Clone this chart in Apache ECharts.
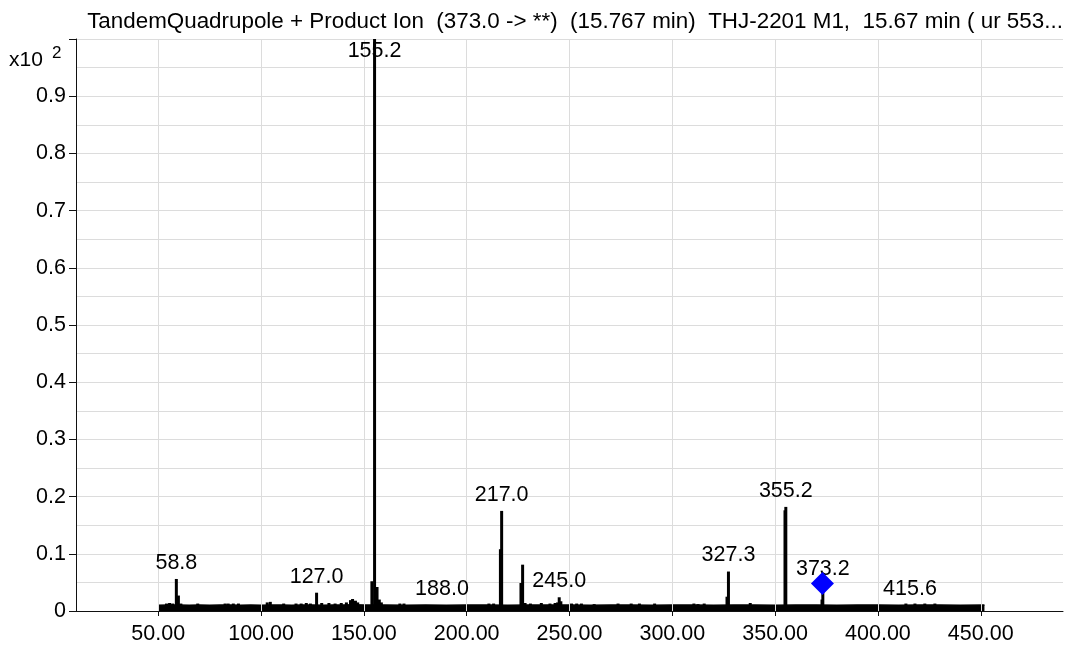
<!DOCTYPE html>
<html>
<head>
<meta charset="utf-8">
<script src="https://cdn.jsdelivr.net/npm/echarts@6/dist/echarts.min.js"></script>
<style>
  html, body { margin: 0; padding: 0; background: #fff; }
  #chart { width: 1067px; height: 651px; }
</style>
</head>
<body>
<div id="chart"></div>
<script>
// Product ion spectrum, intensities in units of x10^2 counts
const titleText = 'TandemQuadrupole + Product Ion  (373.0 -> **)  (15.767 min)  THJ-2201 M1,  15.67 min ( ur 553...';

// m/z tick values on the horizontal axis
const xTicks = [50, 100, 150, 200, 250, 300, 350, 400, 450];

// Baseline noise envelope [m/z, intensity]
const noiseFloor = [
  [50.0, 0.010], [55, 0.0105], [60, 0.0105], [65, 0.010], [70, 0.0105], [75, 0.010],
  [80, 0.0105], [85, 0.0105], [90, 0.010], [95, 0.0105], [100, 0.010], [105, 0.0105],
  [110, 0.0105], [115, 0.010], [120, 0.0105], [125, 0.0105], [130, 0.010], [135, 0.0105],
  [140, 0.0105], [145, 0.011], [150, 0.0105], [160, 0.0105], [170, 0.010], [180, 0.0105],
  [190, 0.010], [200, 0.0105], [210, 0.0105], [220, 0.010], [230, 0.0105], [240, 0.0105],
  [250, 0.0105], [260, 0.010], [270, 0.0105], [280, 0.0105], [290, 0.010], [300, 0.0105],
  [310, 0.0105], [320, 0.010], [330, 0.0105], [340, 0.0105], [350, 0.010], [360, 0.0105],
  [370, 0.0105], [380, 0.010], [390, 0.0105], [400, 0.0105], [410, 0.010], [420, 0.0105],
  [430, 0.0105], [440, 0.010], [451.8, 0.0105]
];

// Centroid peaks [m/z, intensity]
const peaks = [
  [54.0, 0.013], [55.5, 0.014], [57.0, 0.013], [58.8, 0.056], [59.8, 0.027], [61.0, 0.013],
  [69.2, 0.013], [82.5, 0.013], [84.0, 0.013], [86.5, 0.013], [89.0, 0.013],
  [103.0, 0.015], [104.5, 0.016], [111.0, 0.013], [117.0, 0.013], [119.5, 0.013],
  [122.0, 0.014], [124.0, 0.013], [127.0, 0.032], [129.5, 0.014], [133.0, 0.014],
  [136.0, 0.013], [139.0, 0.014], [141.5, 0.015], [143.5, 0.019], [144.5, 0.021],
  [145.9, 0.018], [147.0, 0.015], [153.9, 0.052], [155.2, 1.0], [156.4, 0.042],
  [157.5, 0.020], [158.5, 0.015], [167.5, 0.013], [169.5, 0.013], [188.0, 0.010],
  [210.8, 0.013], [213.1, 0.013], [216.4, 0.108], [217.0, 0.175], [226.4, 0.049],
  [227.2, 0.081], [228.4, 0.014], [231.0, 0.013], [236.3, 0.014], [240.5, 0.013],
  [243.0, 0.014], [244.2, 0.015], [245.0, 0.024], [245.8, 0.017], [251.0, 0.013],
  [253.5, 0.013], [255.8, 0.013], [262.0, 0.012], [273.6, 0.013], [280.0, 0.013],
  [284.0, 0.013], [291.4, 0.013], [310.5, 0.013], [312.5, 0.012], [315.5, 0.013],
  [326.6, 0.025], [327.3, 0.069], [337.9, 0.014], [354.8, 0.176], [355.2, 0.182],
  [372.8, 0.020], [373.2, 0.045], [413.6, 0.013], [415.6, 0.010], [418.0, 0.013],
  [422.8, 0.013], [427.7, 0.013]
];

// Annotated peaks (m/z)
const labeledMz = [58.8, 127.0, 155.2, 188.0, 217.0, 245.0, 327.3, 355.2, 373.2, 415.6];

// Precursor marker [m/z, intensity]
const precursor = [[373.0, 0.048]];

const FONT = '"Liberation Sans", Arial, sans-serif';

const labelData = labeledMz.map(mz => {
  const p = peaks.find(d => d[0] === mz);
  const item = { value: [mz, p[1]] };
  if (p[1] >= 1.0) {
    item.label = { position: 'bottom', distance: 1 };
  }
  return item;
});

const chart = echarts.init(document.getElementById('chart'), null, { renderer: 'canvas' });

chart.setOption({
  animation: false,
  backgroundColor: '#ffffff',
  title: {
    text: titleText,
    left: 570,
    top: 6,
    textAlign: 'center',
    textStyle: { fontFamily: FONT, fontSize: 22.4, fontWeight: 'normal', color: '#000' }
  },
  grid: { left: 76, right: 4, top: 39, bottom: 40, containLabel: false },
  graphic: [
    { type: 'text', left: 9, top: 50, style: { text: 'x10', font: '21px ' + FONT, fill: '#000' } },
    { type: 'text', left: 52, top: 45, style: { text: '2', font: '17px ' + FONT, fill: '#000' } }
  ],
  xAxis: {
    type: 'value',
    min: 10,
    max: 490,
    axisLine: { show: true, lineStyle: { color: '#111', width: 1 } },
    axisTick: { show: true, length: 5, customValues: xTicks, lineStyle: { color: '#111' } },
    axisLabel: {
      customValues: xTicks,
      formatter: v => v.toFixed(2),
      fontFamily: FONT, fontSize: 21.5, color: '#000', margin: 12
    },
    splitLine: { show: false }
  },
  yAxis: {
    type: 'value',
    min: 0,
    max: 1.0,
    interval: 0.1,
    axisLine: { show: true, lineStyle: { color: '#111', width: 1 } },
    axisTick: { show: true, length: 7, lineStyle: { color: '#111' } },
    axisLabel: {
      formatter: v => (v === 0 ? '0' : (v >= 0.999 ? '' : v.toFixed(1))),
      fontFamily: FONT, fontSize: 21.5, color: '#000', margin: 10
    },
    splitLine: { show: true, lineStyle: { color: '#dcdcdc', width: 1 } },
    minorTick: { show: false, splitNumber: 2 },
    minorSplitLine: { show: true, lineStyle: { color: '#dcdcdc', width: 1 } }
  },
  series: [
    {
      // vertical grid lines at the m/z tick values
      type: 'line',
      z: 0,
      data: [],
      silent: true,
      markLine: {
        silent: true,
        symbol: ['none', 'none'],
        label: { show: false },
        lineStyle: { color: '#dcdcdc', width: 1, type: 'solid' },
        emphasis: { disabled: true },
        data: xTicks.map(v => ({ xAxis: v }))
      }
    },
    {
      type: 'line',
      z: 2,
      data: noiseFloor,
      symbol: 'none',
      silent: true,
      lineStyle: { color: '#000', width: 1.5 },
      areaStyle: { color: '#000', opacity: 1 }
    },
    {
      type: 'custom',
      z: 3,
      silent: true,
      data: peaks,
      renderItem: (params, api) => {
        const x = api.value(0);
        const y = api.value(1);
        const p0 = api.coord([x, 0]);
        const p1 = api.coord([x, y]);
        return {
          type: 'line',
          shape: { x1: p0[0], y1: p0[1], x2: p1[0], y2: p1[1] },
          style: { stroke: '#000', lineWidth: 3 }
        };
      }
    },
    {
      type: 'scatter',
      z: 5,
      silent: true,
      symbolSize: 0,
      itemStyle: { opacity: 1 },
      data: labelData,
      label: {
        show: true,
        position: 'top',
        distance: 5,
        formatter: p => p.value[0].toFixed(1),
        fontFamily: FONT, fontSize: 21.5, color: '#000'
      }
    },
    {
      type: 'scatter',
      z: 10,
      silent: true,
      symbol: 'diamond',
      symbolSize: [23, 23],
      itemStyle: { color: '#0000ff', opacity: 1 },
      data: precursor
    }
  ]
});
</script>
</body>
</html>
